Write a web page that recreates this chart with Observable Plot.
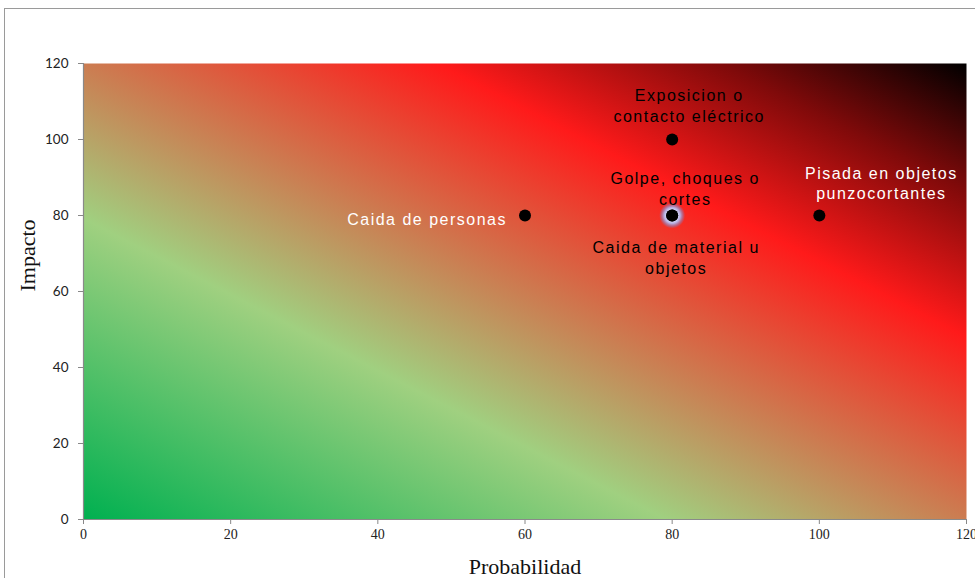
<!DOCTYPE html>
<html>
<head>
<meta charset="utf-8">
<script src="https://cdn.jsdelivr.net/npm/d3@7"></script>
<script src="https://cdn.jsdelivr.net/npm/@observablehq/plot@0.6"></script>
<style>
  html, body { margin: 0; padding: 0; background: #fff; }
  #chart { width: 975px; height: 578px; overflow: hidden; }
</style>
</head>
<body>
<div id="chart"></div>
<script>
// ---- data ----
const riskNames = [
  "Caida de personas",
  "Exposicion o\ncontacto eléctrico",
  "Golpe, choques o\ncortes",
  "Caida de material u\nobjetos",
  "Pisada en objetos\npunzocortantes"
];
const probabilidad = [60, 80, 80, 80, 100];
const impacto = [80, 100, 80, 80, 80];
const xTicks = [0, 20, 40, 60, 80, 100, 120];
const yTicks = [0, 20, 40, 60, 80, 100, 120];
const xTitle = "Probabilidad";
const yTitle = "Impacto";

const rows = riskNames.map((name, i) => ({name, x: probabilidad[i], y: impacto[i]}));

// label styling (presentation only)
const labelStyle = [
  {dx: -18, dy: 3, fill: "#ffffff", anchor: "end", lh: 1.3},
  {dx: 17, dy: -34.5, fill: "#000000", anchor: "middle", lh: 1.3},
  {dx: 13, dy: -27.5, fill: "#000000", anchor: "middle", lh: 1.3},
  {dx: 4, dy: 41.5, fill: "#000000", anchor: "middle", lh: 1.3},
  {dx: 62, dy: -33, fill: "#ffffff", anchor: "middle", lh: 1.25}
];

const labelMarks = rows.map((d, i) => {
  const s = labelStyle[i];
  return Plot.text([d], {
    x: "x", y: "y", text: "name",
    dx: s.dx, dy: s.dy, fill: s.fill, textAnchor: s.anchor,
    lineAnchor: "middle", lineHeight: s.lh,
    fontSize: 16, fontFamily: "'Liberation Sans', Arial, sans-serif"
  });
});

const svg = Plot.plot({
  width: 975,
  height: 578,
  marginLeft: 83,
  marginRight: 9,
  marginTop: 63,
  marginBottom: 59,
  style: {background: "transparent", overflow: "visible"},
  x: {domain: [0, 120], ticks: xTicks},
  y: {domain: [0, 120], ticks: yTicks},
  marks: [
    Plot.frame({fill: "url(#bgGrad)", stroke: "none"}),
    Plot.axisX({ticks: xTicks, tickSize: 5, tickPadding: 5, label: null, stroke: "#888",
      fontSize: 14, fontFamily: "'Liberation Serif', 'DejaVu Serif', serif", color: "#222"}),
    Plot.axisY({ticks: yTicks, tickSize: 5, tickPadding: 10, label: null, stroke: "#888",
      fontSize: 13.5, fontFamily: "Lato, 'Open Sans', sans-serif", color: "#222"}),
    Plot.ruleY([0], {stroke: "#8a8a8a", strokeWidth: 1.2}),
    Plot.ruleX([0], {stroke: "#8a8a8a", strokeWidth: 1.2}),
    Plot.text([xTitle], {frameAnchor: "bottom", dy: 47, lineAnchor: "middle", fontSize: 22,
      fontFamily: "'Liberation Serif', 'Times New Roman', serif", fill: "#111"}),
    Plot.text([yTitle], {frameAnchor: "left", dx: -56, rotate: -90, lineAnchor: "middle", fontSize: 22,
      fontFamily: "'Liberation Serif', 'Times New Roman', serif", fill: "#111"}),
    Plot.dot([rows[2]], {x: "x", y: "y", r: 13, fill: "url(#glowGrad)", stroke: "none"}),
    Plot.dot(rows, {x: "x", y: "y", r: 6, fill: "#000", stroke: "none"}),
    ...labelMarks
  ]
});

const s = d3.select(svg);
const defs = s.insert("defs", ":first-child");
const bg = defs.append("linearGradient").attr("id", "bgGrad")
  .attr("x1", 0).attr("y1", 1).attr("x2", 1).attr("y2", 0);
[[0, "#00b050"], [0.33, "#a0d080"], [0.7, "#ff1a1a"], [0.86, "#800a0a"], [1, "#000000"]]
  .forEach(([o, c]) => bg.append("stop").attr("offset", o).attr("stop-color", c));
const gl = defs.append("radialGradient").attr("id", "glowGrad");
[[0, "#d8d8fa", 1], [0.45, "#d8d8fa", 1], [0.62, "#b4b4e8", 0.95], [0.82, "#8c8cc8", 0.55], [1, "#8080c0", 0]]
  .forEach(([o, c, a]) => gl.append("stop").attr("offset", o).attr("stop-color", c).attr("stop-opacity", a));

// wider letter spacing for the point labels (reference text looks stretched)
s.selectAll('g[font-size="16"]').attr("letter-spacing", "1.5px");

// outer chart border
s.insert("rect", "defs + *").attr("x", 4.5).attr("y", 8.5).attr("width", 1000).attr("height", 600)
  .attr("fill", "none").attr("stroke", "#9a9a9a").attr("stroke-width", 1);

document.getElementById("chart").appendChild(svg);
</script>
</body>
</html>
